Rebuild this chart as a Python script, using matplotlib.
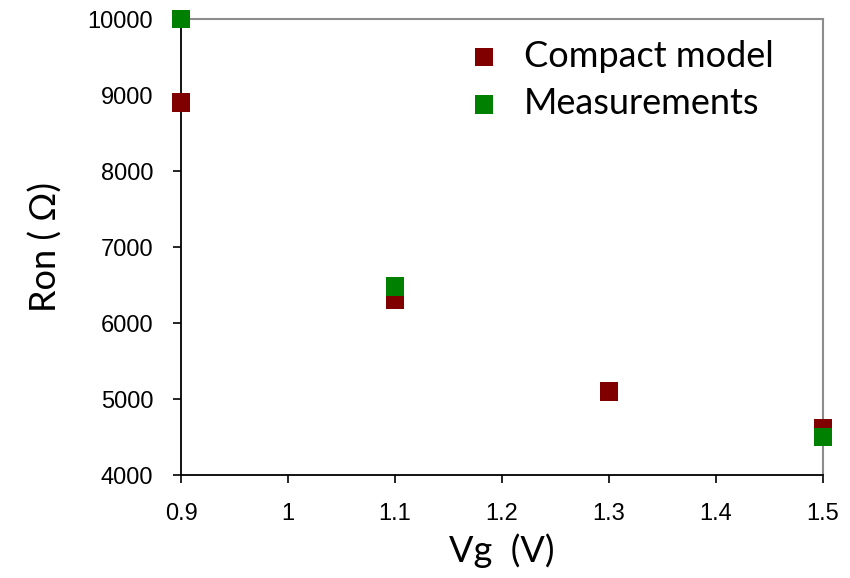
"""Ron versus gate voltage: compact model against measurements."""

import matplotlib
matplotlib.use('Agg')
from matplotlib import pyplot as plt

vg_model = [0.9, 1.1, 1.3, 1.5]
ron_model = [8900, 6300, 5100, 4620]

vg_meas = [0.9, 1.1, 1.5]
ron_meas = [10000, 6480, 4500]

x_ticks = [0.9, 1.0, 1.1, 1.2, 1.3, 1.4, 1.5]
x_tick_labels = ['0.9', '1', '1.1', '1.2', '1.3', '1.4', '1.5']
y_ticks = [4000, 5000, 6000, 7000, 8000, 9000, 10000]

RED = '#800000'
GREEN = '#008000'

fig = plt.figure(figsize=(8.5, 5.78), dpi=100)
ax = fig.add_axes([181 / 850, 1 - 475 / 578, (823 - 181) / 850, (475 - 19) / 578])

ax.scatter(vg_model, ron_model, marker='s', s=175, color=RED,
           edgecolors='none', label='Compact model', clip_on=False, zorder=3)
ax.scatter(vg_meas, ron_meas, marker='s', s=175, color=GREEN,
           edgecolors='none', label='Measurements', clip_on=False, zorder=4)

ax.set_xlim(0.9, 1.5)
ax.set_ylim(4000, 10000)
ax.set_xticks(x_ticks)
ax.set_xticklabels(x_tick_labels)
ax.set_yticks(y_ticks)

for lbl in ax.get_xticklabels() + ax.get_yticklabels():
    lbl.set_fontfamily('Liberation Sans')
    lbl.set_fontsize(17)

ax.tick_params(direction='out', length=6, width=1.2, color='black')
ax.tick_params(axis='x', pad=14)
ax.tick_params(axis='y', pad=14)

for side in ['left', 'bottom']:
    ax.spines[side].set_color('black')
    ax.spines[side].set_linewidth(1.3)
for side in ['top', 'right']:
    ax.spines[side].set_color('#8c8c8c')
    ax.spines[side].set_linewidth(1.5)

ax.set_xlabel('Vg  (V)', fontfamily='Lato', fontsize=26, labelpad=6)
ax.set_ylabel('Ron ( \u03a9)', fontfamily='Lato', fontsize=26, labelpad=18)

ax.legend(loc='upper left', bbox_to_anchor=(0.43, 0.955), frameon=False,
          prop={'family': 'Lato', 'size': 26}, handlelength=1.5,
          handletextpad=0.35, labelspacing=0.4, markerscale=1.0,
          borderpad=0, borderaxespad=0)

fig.savefig('out.png', dpi=100)
